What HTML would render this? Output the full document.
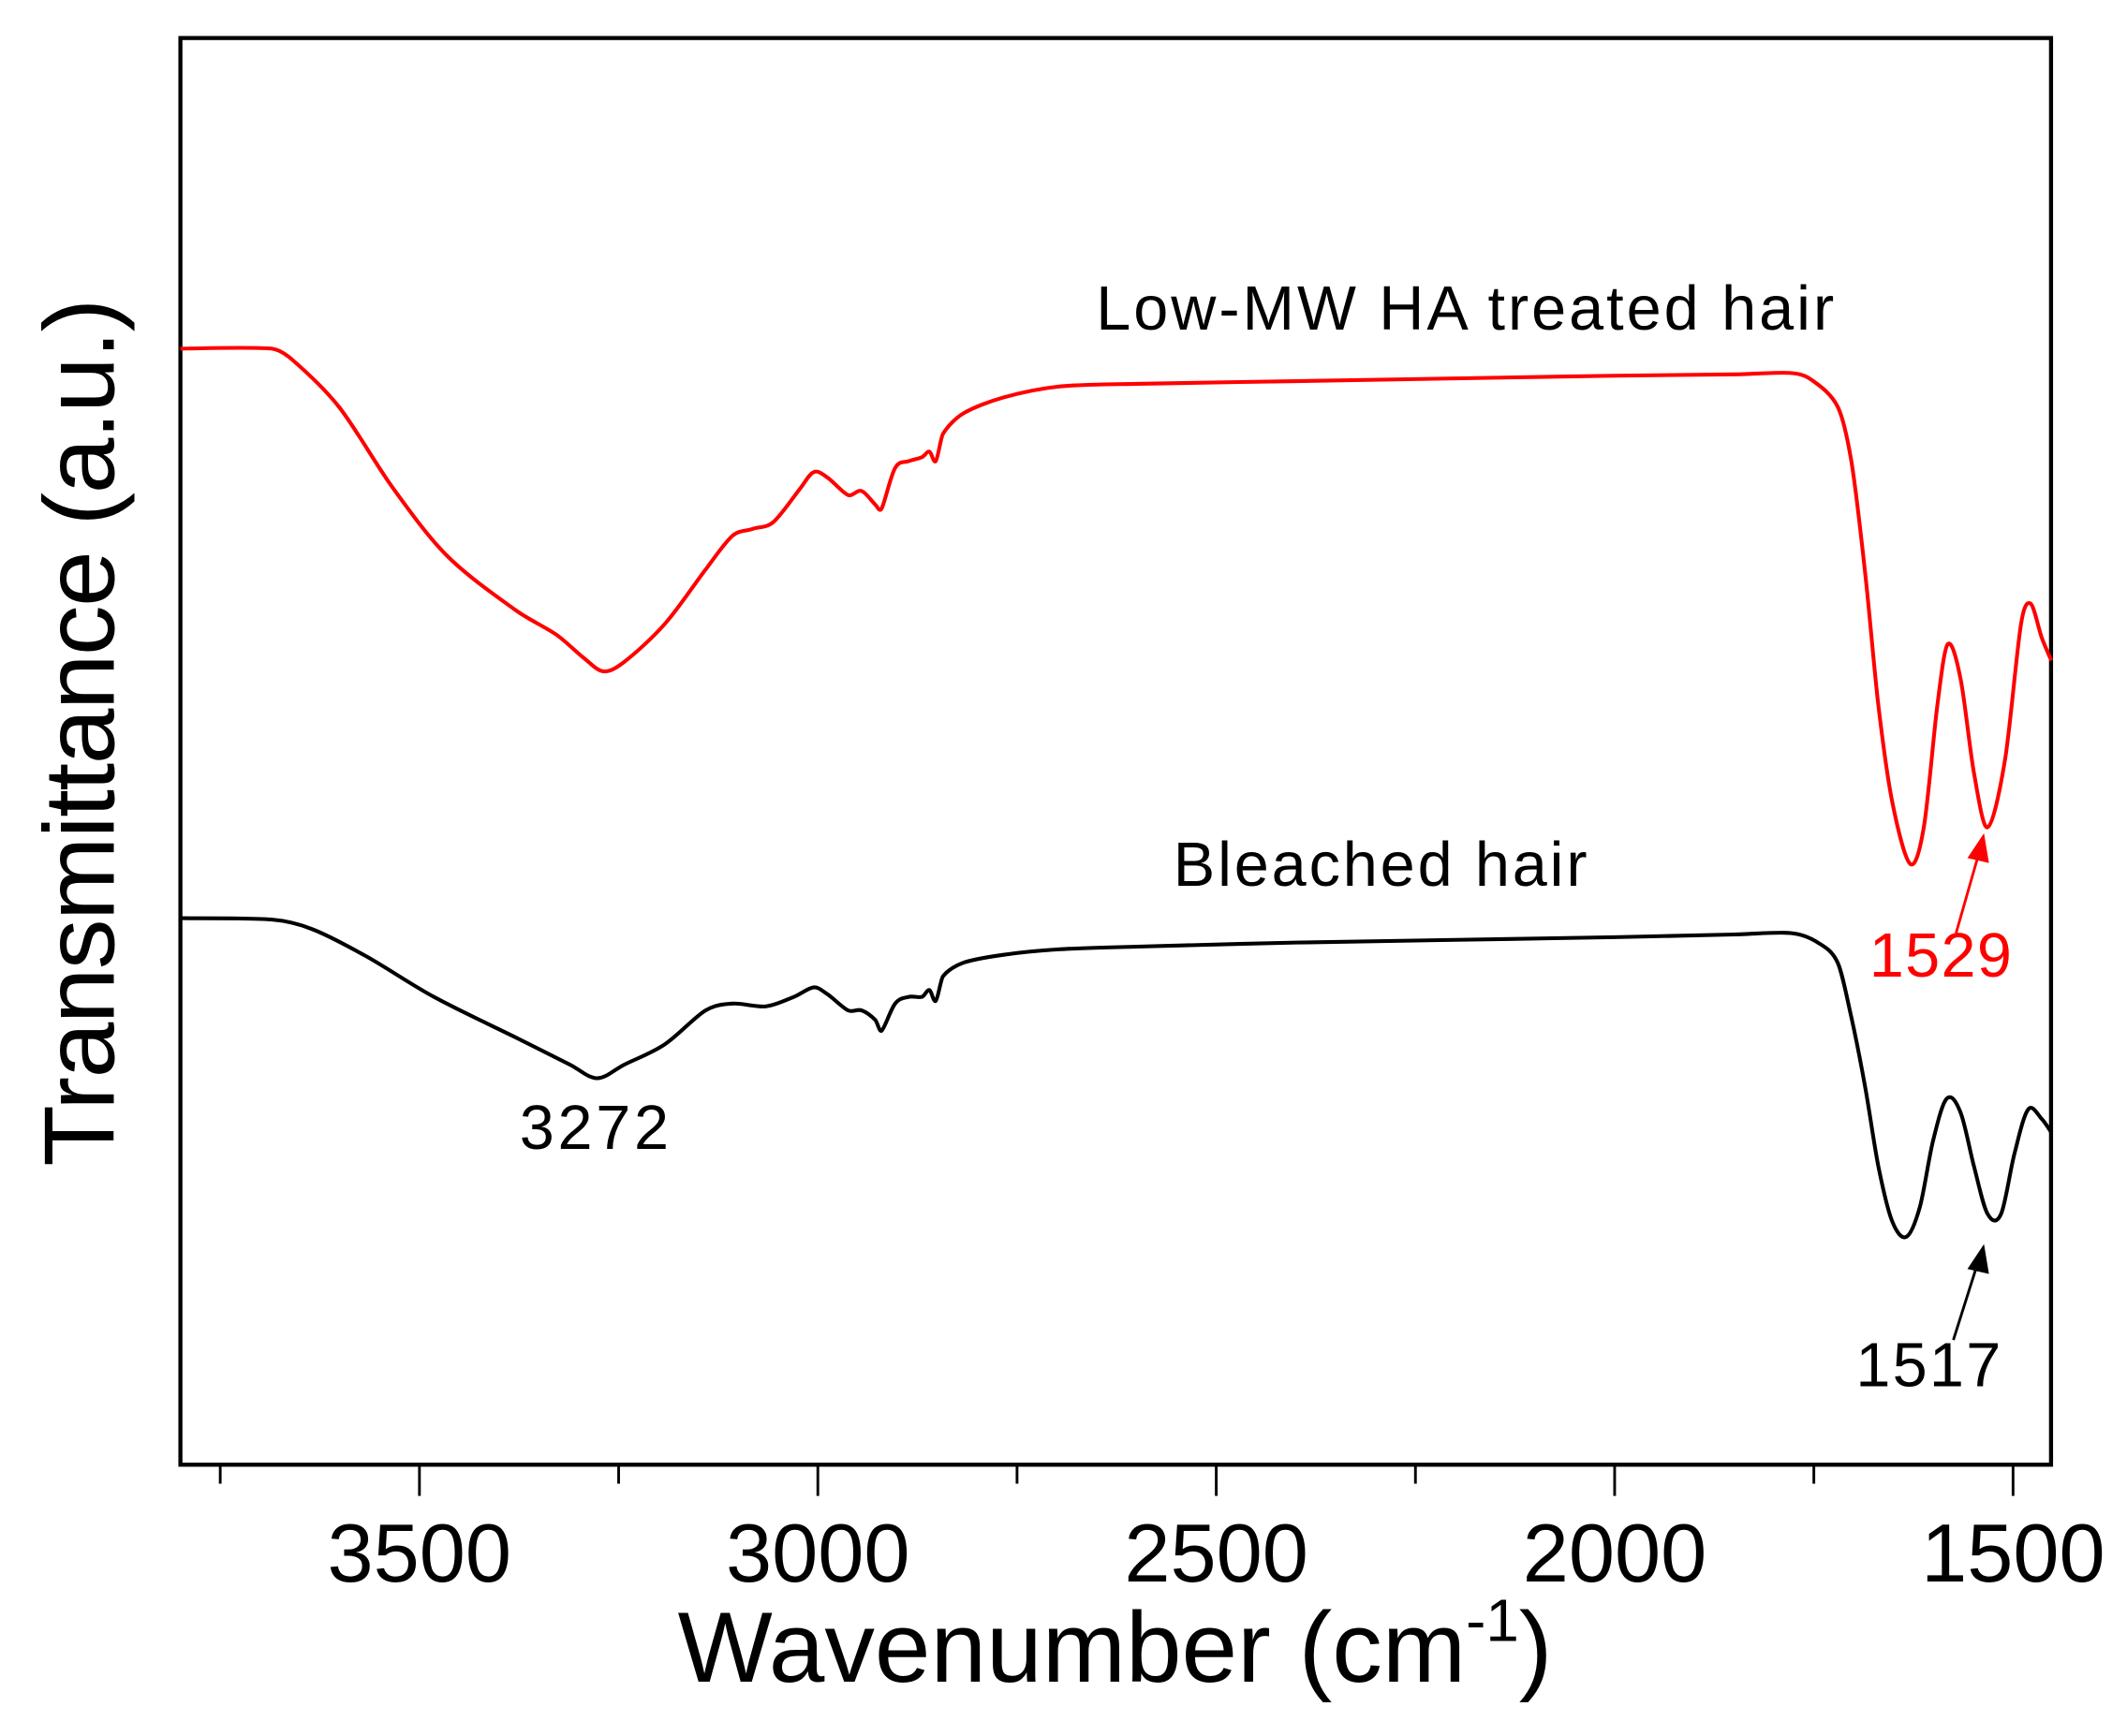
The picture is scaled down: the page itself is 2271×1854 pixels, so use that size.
<!DOCTYPE html>
<html><head><meta charset="utf-8"><style>html,body{margin:0;padding:0;background:#fff}svg{display:block}text{font-family:"Liberation Sans",Arial,sans-serif}</style></head>
<body>
<svg id="chart" width="2271" height="1854" viewBox="0 0 1568 1280" xmlns="http://www.w3.org/2000/svg">
<rect x="133" y="28" width="1379" height="1052" fill="none" stroke="#000" stroke-width="3"/>
<g id="ticks"></g>
<g id="series"></g>
<text x="822" y="1240" font-size="74" text-anchor="middle">Wavenumber (cm<tspan dy="-30" font-size="44">-1</tspan><tspan dy="30">)</tspan></text>
<text transform="translate(84,540) rotate(-90)" font-size="74" text-anchor="middle" textLength="640">Transmittance (a.u.)</text>
<text x="808" y="243" font-size="46" textLength="544">Low-MW HA treated hair</text>
<text x="865" y="653" font-size="46" textLength="305">Bleached hair</text>
<text x="383" y="847" font-size="46" textLength="110">3272</text>
<text x="1378" y="720" font-size="46" fill="#ff0000" textLength="105">1529</text>
<text x="1368" y="1022" font-size="46" textLength="107">1517</text>
<g stroke="#ff0000" fill="#ff0000" stroke-width="2">
<line x1="1442" y1="688" x2="1460" y2="625"/><polygon points="1462,617 1452,632 1465,635"/></g>
<g stroke="#000" fill="#000" stroke-width="2">
<line x1="1440" y1="988" x2="1459" y2="928"/><polygon points="1462,920 1452,935 1465,938"/></g>
</svg>
<script>
const tickLabels=[3500,3000,2500,2000,1500];
const minorTicks=[3750,3250,2750,2250,1750];
const redWave=[3800,3686,3660,3601,3533,3465,3379,3328,3294,3269,3243,3192,3141,3107,3082,3056,3022,3005,2988,2962,2945,2928,2920,2903,2886,2869,2860,2852,2843,2818,2767,2698,2600,2400,2200,2000,1850,1779,1753,1720,1703,1686,1669,1652,1629,1612,1595,1582,1566,1549,1532,1510,1490,1478,1464,1452];
const redTrans=[82.3,82.3,81.5,78,72,67,63,61.2,59.5,58.5,59.2,62,66,68.5,69,69.5,72,73.2,72.8,71.5,71.8,70.8,70.5,73.5,74,74.3,74.7,74,76,77.5,78.7,79.5,79.7,79.9,80.1,80.3,80.4,80.5,80,78,74,66,56,49,44.3,47,56,60.5,58,51,47,52,62,63.5,61,59.3];
const blackWave=[3800,3686,3635,3567,3482,3379,3311,3277,3243,3192,3141,3107,3065,3030,3005,2988,2962,2945,2928,2920,2903,2886,2869,2860,2852,2843,2818,2767,2698,2600,2400,2200,2000,1850,1779,1745,1720,1703,1686,1669,1652,1634,1617,1600,1583,1566,1549,1532,1515,1498,1481,1464,1452];
const blackTrans=[40.3,40.2,39.5,37.5,34.5,31.5,29.5,28.5,29.5,31,33.5,34,33.8,34.5,35.2,34.7,33.5,33.5,32.8,32,34,34.5,34.5,35,34.2,36,37,37.6,38,38.2,38.5,38.7,38.9,39.1,39.2,38.5,37,33,28,22,18,16.8,19,24,27,26,22,18.5,18.5,23,26.2,25.5,24.5];
const X=w=>1484+(1500-w)*0.5874;
const Y=t=>1080-10*t;
const NS="http://www.w3.org/2000/svg";
const tg=document.getElementById('ticks');
tickLabels.forEach(v=>{
 const l=document.createElementNS(NS,'line');
 l.setAttribute('x1',X(v));l.setAttribute('x2',X(v));l.setAttribute('y1',1080);l.setAttribute('y2',1103);l.setAttribute('stroke','#000');l.setAttribute('stroke-width','2');
 
 
 tg.appendChild(l);
 const t=document.createElementNS(NS,'text');
 t.setAttribute('x',X(v));t.setAttribute('y',1166);t.setAttribute('font-size','61');t.setAttribute('text-anchor','middle');
 t.textContent=v;
 
 
 tg.appendChild(t);
});
minorTicks.forEach(v=>{
 const l=document.createElementNS(NS,'line');
 l.setAttribute('x1',X(v));l.setAttribute('x2',X(v));l.setAttribute('y1',1080);l.setAttribute('y2',1094);l.setAttribute('stroke','#000');l.setAttribute('stroke-width','2');
 
 
 tg.appendChild(l);
});
function pathD(ws,ts){
 const p=ws.map((w,i)=>[X(w),Y(ts[i])]);
 let d='M'+p[0][0]+','+p[0][1];
 for(let i=0;i<p.length-1;i++){
  const p0=p[i-1]||p[i],p1=p[i],p2=p[i+1],p3=p[i+2]||p2;
  const dx=p2[0]-p1[0];
  let t1x=(p2[0]-p0[0])/2,t1y=(p2[1]-p0[1])/2,t2x=(p3[0]-p1[0])/2,t2y=(p3[1]-p1[1])/2;
  const s1=Math.min(1,dx/Math.max(t1x,1e-6)),s2=Math.min(1,dx/Math.max(t2x,1e-6));
  const c1=[p1[0]+t1x*s1/3,p1[1]+t1y*s1/3];
  const c2=[p2[0]-t2x*s2/3,p2[1]-t2y*s2/3];
  d+=' C'+c1[0].toFixed(1)+','+c1[1].toFixed(1)+' '+c2[0].toFixed(1)+','+c2[1].toFixed(1)+' '+p2[0].toFixed(1)+','+p2[1].toFixed(1);
 }
 return d;
}
const sg=document.getElementById('series');
const r=document.createElementNS(NS,'path');
r.setAttribute('d',pathD(redWave,redTrans));r.setAttribute('fill','none');r.setAttribute('stroke','#ff0000');r.setAttribute('stroke-width','2.8');


sg.appendChild(r);
const b=document.createElementNS(NS,'path');
b.setAttribute('d',pathD(blackWave,blackTrans));b.setAttribute('fill','none');b.setAttribute('stroke','#000');b.setAttribute('stroke-width','2.8');


sg.appendChild(b);
</script>
</body></html>
